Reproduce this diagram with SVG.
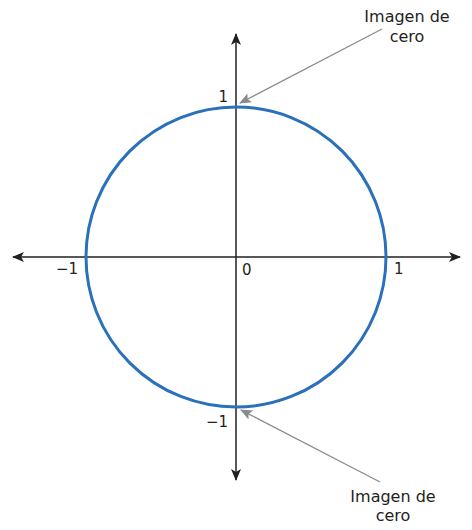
<svg xmlns="http://www.w3.org/2000/svg" width="472" height="530" viewBox="0 0 472 530">
<style>
.ax{stroke:#231f20;stroke-width:1.5;fill:none}
.pt{stroke:#8a8a8a;stroke-width:1.3;fill:none}
.t{font-family:"DejaVu Sans",Verdana,sans-serif;font-size:16px;fill:#231f20}
.n{font-family:"DejaVu Sans",Verdana,sans-serif;font-size:15px;fill:#231f20}
</style>
<defs>
<marker id="ah" viewBox="0 0 12 10" markerWidth="12" markerHeight="10" refX="11" refY="5" orient="auto" markerUnits="userSpaceOnUse">
<path d="M0,0 L12,5 L0,10 L3,5 Z" fill="#231f20"/>
</marker>
<marker id="gh" viewBox="0 0 12 10" markerWidth="12" markerHeight="10" refX="11" refY="5" orient="auto" markerUnits="userSpaceOnUse">
<path d="M0,0 L12,5 L0,10 L2.5,5 Z" fill="#8a8a8a"/>
</marker>
</defs>
<rect width="472" height="530" fill="#ffffff"/>
<g id="axes">
<line class="ax" x1="236" y1="257" x2="236" y2="34" marker-end="url(#ah)"/>
<line class="ax" x1="236" y1="257" x2="236" y2="480" marker-end="url(#ah)"/>
<line class="ax" x1="236" y1="257" x2="13" y2="257" marker-end="url(#ah)"/>
<line class="ax" x1="236" y1="257" x2="460" y2="257" marker-end="url(#ah)"/>
</g>
<g id="circle">
<circle cx="236" cy="257" r="150" fill="none" stroke="#2a70ba" stroke-width="3"/>
</g>
<g id="labels">
<text class="n" x="228" y="102" text-anchor="end">1</text>
<text class="n" x="78" y="274" text-anchor="end">−1</text>
<text class="n" x="394" y="274">1</text>
<text class="n" x="242" y="275">0</text>
<text class="n" x="228" y="427" text-anchor="end">−1</text>
</g>
<g id="connectors">
<line class="pt" x1="382" y1="29" x2="240" y2="103" marker-end="url(#gh)"/>
<line class="pt" x1="380" y1="482" x2="241" y2="410" marker-end="url(#gh)"/>
</g>
<g id="note-top">
<text class="t" x="407" y="22" text-anchor="middle">Imagen de</text>
<text class="t" x="407" y="42" text-anchor="middle">cero</text>
</g>
<g id="note-bottom">
<text class="t" x="393" y="502" text-anchor="middle">Imagen de</text>
<text class="t" x="393" y="521" text-anchor="middle">cero</text>
</g>
</svg>
